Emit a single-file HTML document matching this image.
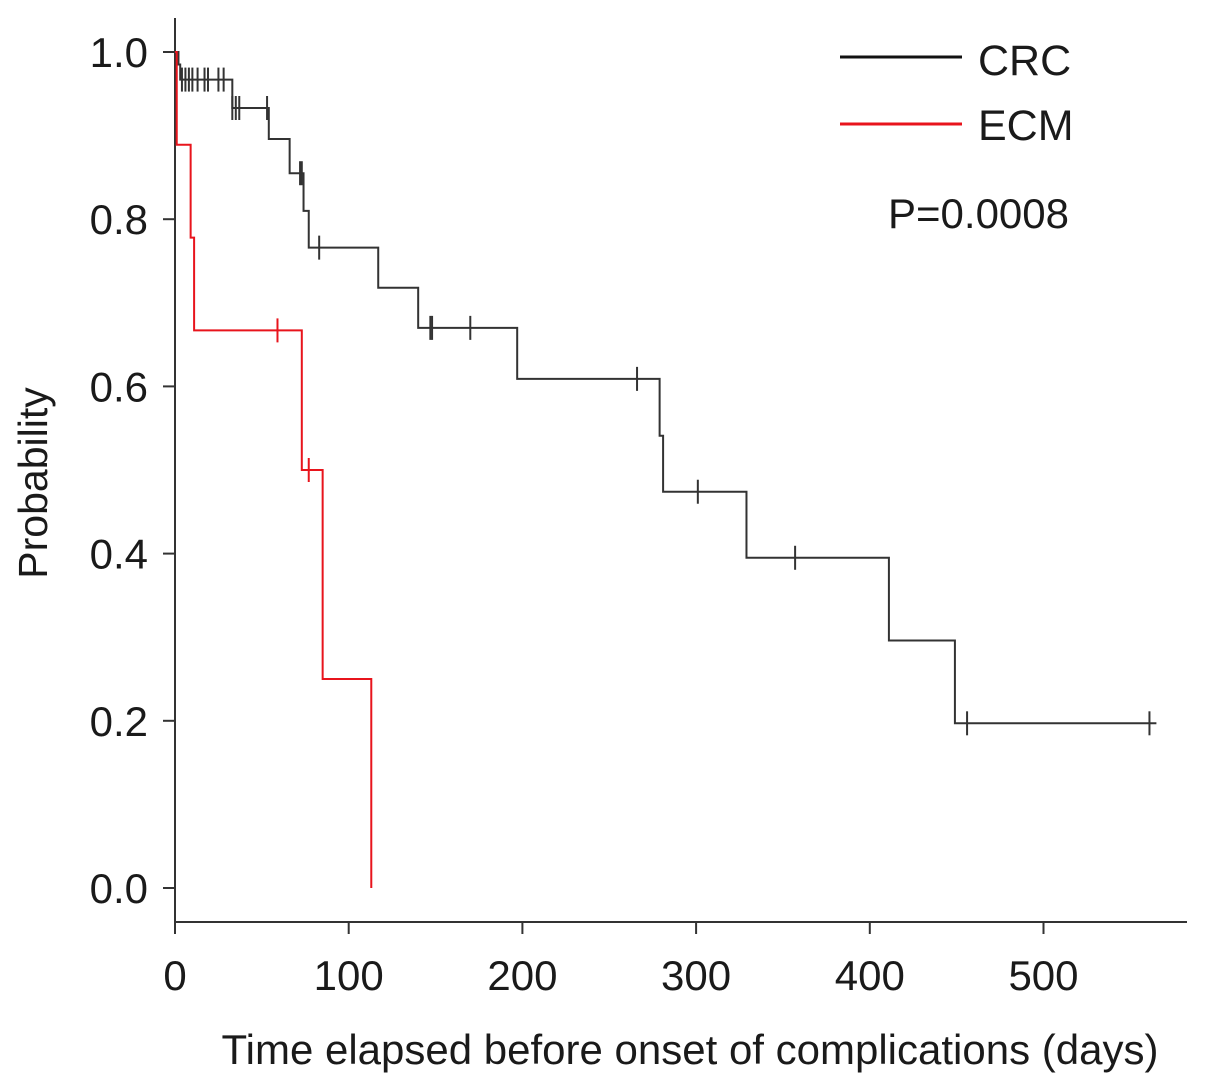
<!DOCTYPE html>
<html><head><meta charset="utf-8"><style>
body{margin:0;background:#fff}
text{font-family:"Liberation Sans",sans-serif;fill:#1a1a1a}
</style></head><body>
<svg id="chart" width="1205" height="1087" xmlns="http://www.w3.org/2000/svg">
<g id="axes"></g>
<g id="series"></g>
<g>
<line x1="840" y1="57" x2="962" y2="57" stroke="#111" stroke-width="3"/>
<text x="978" y="75" font-size="43">CRC</text>
<line x1="840" y1="124" x2="962" y2="124" stroke="#e8141c" stroke-width="3"/>
<text x="978" y="140" font-size="43">ECM</text>
<text x="888" y="228" font-size="42">P=0.0008</text>
</g>
<text x="690" y="1064" font-size="42" text-anchor="middle">Time elapsed before onset of complications (days)</text>
<text transform="translate(47,483) rotate(-90)" font-size="41" text-anchor="middle">Probability</text>
</svg>
<script>
const xTicks=[0,100,200,300,400,500];
const yTicks=[0.0,0.2,0.4,0.6,0.8,1.0];
const crcTimes=[2,3,33,54,66,74,77,117,140,197,279,281,329,411,449];
const crcSurv=[0.985,0.967,0.933,0.896,0.855,0.81,0.766,0.718,0.67,0.609,0.541,0.474,0.395,0.296,0.197];
const crcCensor=[4,6,8,10,13,17,19,25,28,33,35,37,53,72,73,83,147,148,170,266,301,357,456,561];
const crcEnd=565;
const ecmTimes=[1,9,11,73,85,113];
const ecmSurv=[0.889,0.778,0.667,0.5,0.25,0];
const ecmCensor=[59,77];
const ecmEnd=113;

const X=t=>175+t*1.737;
const Y=p=>888-p*836;
const NS='http://www.w3.org/2000/svg';
function mk(tag,attrs,parent){const e=document.createElementNS(NS,tag);for(const k in attrs)e.setAttribute(k,attrs[k]);parent.appendChild(e);return e;}
const ax=document.getElementById('axes');
let l=mk('line',{x1:175,y1:18,x2:175,y2:922,stroke:'#333','stroke-width':2},ax);


l=mk('line',{x1:175,y1:922,x2:1187,y2:922,stroke:'#333','stroke-width':2},ax);


xTicks.forEach(v=>{
 const t=mk('line',{x1:X(v),y1:922,x2:X(v),y2:934,stroke:'#333','stroke-width':2},ax);
 
 
 const tx=mk('text',{x:X(v),y:990,'font-size':42,'text-anchor':'middle'},ax);tx.textContent=v;
 
 
});
yTicks.forEach(v=>{
 const t=mk('line',{x1:163,y1:Y(v),x2:175,y2:Y(v),stroke:'#333','stroke-width':2},ax);
 
 
 const tx=mk('text',{x:148,y:Y(v)+15,'font-size':42,'text-anchor':'end'},ax);tx.textContent=v.toFixed(1);
 
 
});
const sg=document.getElementById('series');
function survAt(times,surv,t){let s=1;for(let i=0;i<times.length;i++){if(times[i]<=t)s=surv[i];}return s;}
function draw(times,surv,censor,end,color,name){
 let d='M'+X(0)+','+Y(1);
 times.forEach((t,i)=>{d+=' H'+X(t)+' V'+Y(surv[i]);});
 d+=' H'+X(end);
 const p=mk('path',{d:d,fill:'none',stroke:color,'stroke-width':2},sg);
 
 
 censor.forEach(t=>{
  const s=survAt(times,surv,t);
  const c=mk('line',{x1:X(t),y1:Y(s)-12,x2:X(t),y2:Y(s)+12,stroke:color,'stroke-width':2},sg);
  
  
 });
}
draw(crcTimes,crcSurv,crcCensor,crcEnd,'#333','crc');
draw(ecmTimes,ecmSurv,ecmCensor,ecmEnd,'#e8141c','ecm');
</script>
</body></html>
